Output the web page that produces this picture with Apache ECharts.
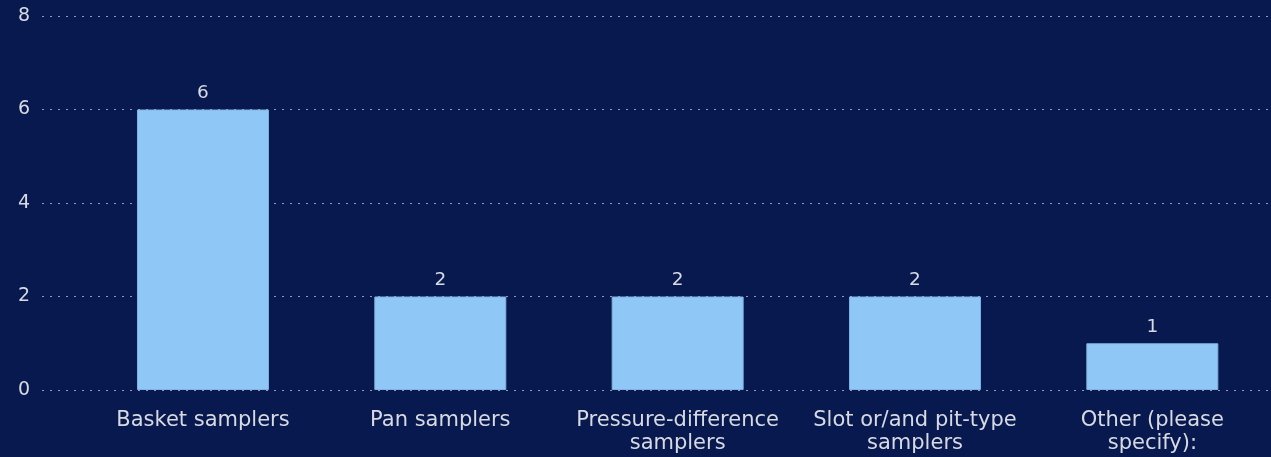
<!DOCTYPE html>
<html>
<head>
<meta charset="utf-8">
<script src="https://cdn.jsdelivr.net/npm/echarts@6/dist/echarts.min.js"></script>
<style>
html,body{margin:0;padding:0;background:#08194f;}
#chart{width:1271px;height:457px;}
</style>
</head>
<body>
<div id="chart"></div>
<script>
const categories = ['Basket samplers', 'Pan samplers', 'Pressure-difference\nsamplers', 'Slot or/and pit-type\nsamplers', 'Other (please\nspecify):'];
const values = [6, 2, 2, 2, 1];
const yTicks = [0, 2, 4, 6, 8];

const chart = echarts.init(document.getElementById('chart'), null, {renderer: 'canvas'});
const textColor = '#d8dae2';
const font = 'DejaVu Sans, Verdana, sans-serif';
chart.setOption({
  backgroundColor: '#08194f',
  animation: false,
  grid: [
    {left: 42, right: 0, top: 16, bottom: 67, containLabel: false},
    {left: 84.3, right: 0, top: 16, bottom: 67, containLabel: false}
  ],
  xAxis: [
    {gridIndex: 0, type: 'value', min: 0, max: 1, show: false},
    {gridIndex: 1, type: 'category', data: categories,
     axisLine: {show: false}, axisTick: {show: false},
     axisLabel: {color: textColor, fontFamily: font, fontSize: 21, lineHeight: 23, margin: 19, interval: 0}}
  ],
  yAxis: [
    {gridIndex: 0, type: 'value', min: yTicks[0], max: yTicks[yTicks.length - 1], interval: 2,
     axisLine: {show: false}, axisTick: {show: false},
     axisLabel: {color: textColor, fontFamily: font, fontSize: 19, margin: 12},
     splitLine: {show: true, lineStyle: {type: [2, 6], color: 'rgba(190,198,220,0.75)', width: 1}}},
    {gridIndex: 1, type: 'value', min: yTicks[0], max: yTicks[yTicks.length - 1], interval: 2, show: false,
     splitLine: {show: false}}
  ],
  series: [{
    type: 'bar',
    xAxisIndex: 1, yAxisIndex: 1,
    data: values,
    barWidth: 132,
    itemStyle: {color: '#8fc8f7', borderColor: '#7fb2e0', borderWidth: 1},
    label: {show: true, position: 'top', distance: 7, color: textColor, fontFamily: font, fontSize: 18.5}
  }]
});
</script>
</body>
</html>
